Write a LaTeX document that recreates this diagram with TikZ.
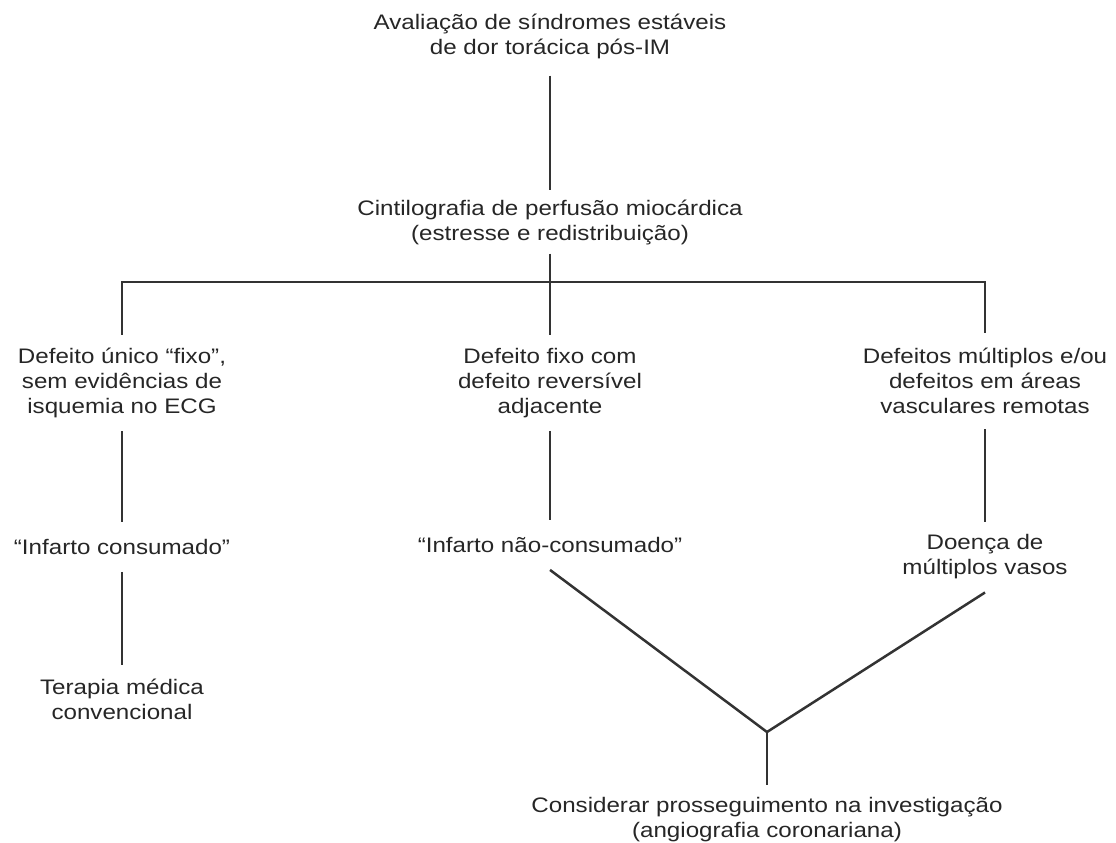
\documentclass[tikz,border=0pt]{standalone}
\usepackage{fontspec}
\setmainfont{Liberation Sans}[FakeStretch=1.15]

\tikzset{
    lbl/.style={align=center, inner xsep=0pt, inner ysep=13pt, text=black!85,
        font=\fontsize{21}{25}\selectfont},
    conn/.style={line width=2.5pt, draw=black!80}
}

\begin{document}
\begin{tikzpicture}[x=1pt,y=-1pt]

    \useasboundingbox (0,0) rectangle (1116,843);

    %% Top of the tree
    \node[lbl, inner ysep=17pt] (aval) at (550,36) {Avaliação de síndromes estáveis\\de dor torácica pós-IM};
    \node[lbl, inner ysep=9pt] (cint) at (550,222) {Cintilografia de perfusão miocárdica\\(estresse e redistribuição)};
    \draw[conn] (aval.south) -- (cint.north);

    % Branch bar
    \coordinate (bar) at (550,282);

    %% First row
    \node[lbl] (unico) at (122,383) {Defeito único “fixo”,\\sem evidências de\\isquemia no ECG};
    \node[lbl] (fixo) at (550,383) {Defeito fixo com\\defeito reversível\\adjacente};
    \node[lbl, inner ysep=15pt] (multi) at (985,381) {Defeitos múltiplos e/ou\\defeitos em áreas\\vasculares remotas};

    \draw[conn] (cint.south) -- (fixo.north);
    \draw[conn] (unico.north) |- (bar) -| (multi.north);

    %% Second row
    \node[lbl, inner ysep=17pt] (consum) at (122,547) {“Infarto consumado”};
    \node[lbl, inner ysep=17pt] (naocons) at (550,545) {“Infarto não-consumado”};
    \node[lbl] (vasos) at (985,557) {Doença de\\múltiplos vasos};

    \draw[conn] (unico.south) -- (consum.north);
    \draw[conn] (fixo.south) -- (naocons.north);
    \draw[conn] (multi.south) -- (vasos.north);

    %% Left end
    \node[lbl] (terapia) at (122,699) {Terapia médica\\convencional};
    \draw[conn] (consum.south) -- (terapia.north);

    %% Joining branches
    \coordinate (join) at (767,732);
    \node[lbl] (angio) at (767,820) {Considerar prosseguimento na investigação\\(angiografia coronariana)};

    \draw[conn] (naocons.south) -- (join);
    \draw[conn] (vasos.south) -- (join);
    \draw[conn] (join) -- (angio.north);

\end{tikzpicture}
\end{document}
